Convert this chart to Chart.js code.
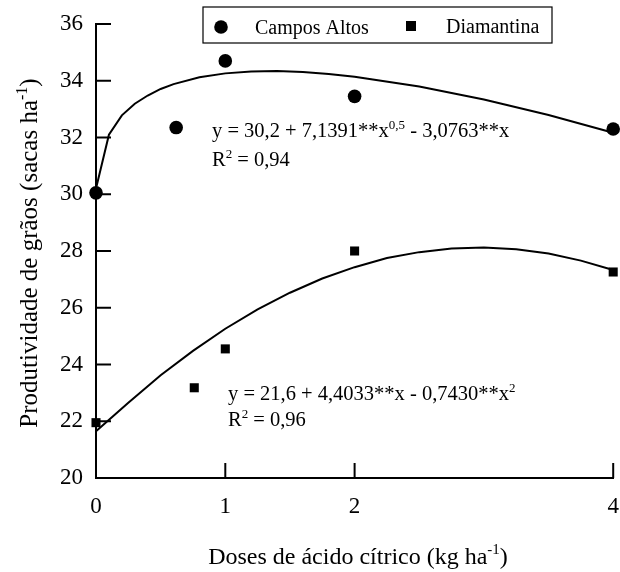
<!DOCTYPE html>
<html>
<head>
<meta charset="utf-8">
<script src="https://cdn.jsdelivr.net/npm/chart.js@4.4.1/dist/chart.umd.min.js"></script>
<style>
html, body { margin: 0; padding: 0; background: #fff; }
#wrap { width: 620px; height: 572px; }
</style>
</head>
<body>
<div id="wrap"><canvas id="myChart" width="620" height="572"></canvas></div>
<script>
// data
const seriesNames = ['Campos Altos', 'Diamantina'];
const camposDoses = [0, 0.62, 1, 2, 4];
const camposYield = [30.05, 32.35, 34.7, 33.45, 32.3];
const diamDoses = [0, 0.76, 1, 2, 4];
const diamYield = [21.95, 23.18, 24.55, 28.0, 27.26];

// fitted curves
const camposCurveX = [0, 0.1, 0.2, 0.3, 0.4, 0.5, 0.6, 0.8, 1.0, 1.2, 1.4, 1.6, 1.8, 2.0, 2.5, 3.0, 3.5, 4.0];
const camposCurveY = [30.2, 32.1, 32.78, 33.19, 33.48, 33.71, 33.88, 34.12, 34.26, 34.33, 34.34, 34.31, 34.24, 34.14, 33.8, 33.34, 32.79, 32.17];
const diamCurveX = [0, 0.25, 0.5, 0.75, 1.0, 1.25, 1.5, 1.75, 2.0, 2.25, 2.5, 2.75, 3.0, 3.25, 3.5, 3.75, 4.0];
const diamCurveY = [21.65, 22.65, 23.62, 24.48, 25.26, 25.94, 26.53, 27.03, 27.43, 27.75, 27.96, 28.09, 28.12, 28.06, 27.91, 27.66, 27.33];

const xTickValues = [0, 1, 2, 4];
const yTickMin = 20, yTickMax = 36, yTickStep = 2;

// texts, parts flagged sup are superscripts
const xTitle = [{ t: 'Doses de ácido cítrico (kg ha' }, { t: '-1', sup: true }, { t: ')' }];
const yTitle = [{ t: 'Produtividade de grãos (sacas ha' }, { t: '-1', sup: true }, { t: ')' }];
const camposEq = [{ t: 'y = 30,2 + 7,1391**x' }, { t: '0,5', sup: true }, { t: ' - 3,0763**x' }];
const camposR2 = [{ t: 'R' }, { t: '2', sup: true }, { t: ' = 0,94' }];
const diamEq = [{ t: 'y = 21,6 + 4,4033**x - 0,7430**x' }, { t: '2', sup: true }];
const diamR2 = [{ t: 'R' }, { t: '2', sup: true }, { t: ' = 0,96' }];

const FONT = '"Liberation Serif", "Times New Roman", serif';

function toPoints(xs, ys) {
    return xs.map(function(x, i) { return { x: x, y: ys[i] }; });
}

function richWidth(ctx, parts, size) {
    let w = 0;
    parts.forEach(function(p) {
        ctx.font = (p.sup ? Math.round(size * 0.62) : size) + 'px ' + FONT;
        w += ctx.measureText(p.t).width;
    });
    return w;
}

function richText(ctx, parts, x, y, size) {
    let cx = x;
    parts.forEach(function(p) {
        const s = p.sup ? Math.round(size * 0.62) : size;
        ctx.font = s + 'px ' + FONT;
        ctx.fillText(p.t, cx, p.sup ? y - size * 0.4 : y);
        cx += ctx.measureText(p.t).width;
    });
}

function line(ctx, x1, y1, x2, y2) {
    ctx.beginPath();
    ctx.moveTo(x1, y1);
    ctx.lineTo(x2, y2);
    ctx.stroke();
}

// ticks pointing inward, titles, equations and legend box
const extras = {
    id: 'extras',
    afterDraw(chart) {
        const ctx = chart.ctx;
        const xs = chart.scales.x, ys = chart.scales.y;
        ctx.save();
        ctx.strokeStyle = '#000';
        ctx.fillStyle = '#000';
        ctx.lineWidth = 2;
        ys.ticks.forEach(function(t) {
            const py = ys.getPixelForValue(t.value);
            line(ctx, xs.left, py, xs.left + 15, py);
        });
        xs.ticks.forEach(function(t) {
            const px = xs.getPixelForValue(t.value);
            line(ctx, px, ys.bottom, px, ys.bottom - 15);
        });

        ctx.textBaseline = 'alphabetic';
        ctx.textAlign = 'left';

        // axis titles
        const xw = richWidth(ctx, xTitle, 24);
        richText(ctx, xTitle, 358 - xw / 2, 564, 24);
        ctx.save();
        ctx.translate(37, 253);
        ctx.rotate(-Math.PI / 2);
        const yw = richWidth(ctx, yTitle, 25);
        richText(ctx, yTitle, -yw / 2, 0, 25);
        ctx.restore();

        // equations
        richText(ctx, camposEq, 212, 137, 20.5);
        richText(ctx, camposR2, 212, 166, 20.5);
        richText(ctx, diamEq, 228, 400, 20.5);
        richText(ctx, diamR2, 228, 426, 20.5);

        // legend
        ctx.lineWidth = 1.2;
        ctx.strokeRect(203, 7, 349, 36);
        ctx.beginPath();
        ctx.arc(221, 27, 6.8, 0, Math.PI * 2);
        ctx.fill();
        ctx.fillRect(406, 21, 10, 10);
        ctx.font = '20px ' + FONT;
        ctx.fillText(seriesNames[0], 255, 34);
        ctx.fillText(seriesNames[1], 446, 33);
        ctx.restore();
    }
};

const data = {
    datasets: [{
        label: seriesNames[0] + ' fit',
        data: toPoints(camposCurveX, camposCurveY),
        showLine: true,
        borderColor: '#000',
        borderWidth: 2,
        pointRadius: 0,
        tension: 0,
        clip: false,
        order: 2
    }, {
        label: seriesNames[1] + ' fit',
        data: toPoints(diamCurveX, diamCurveY),
        showLine: true,
        borderColor: '#000',
        borderWidth: 2,
        pointRadius: 0,
        tension: 0,
        clip: false,
        order: 2
    }, {
        label: seriesNames[0],
        data: toPoints(camposDoses, camposYield),
        pointStyle: 'circle',
        pointRadius: 6.8,
        backgroundColor: '#000',
        borderColor: '#000',
        borderWidth: 0,
        clip: false,
        order: 1
    }, {
        label: seriesNames[1],
        data: toPoints(diamDoses, diamYield),
        pointStyle: 'rect',
        pointRadius: 6.4,
        backgroundColor: '#000',
        borderColor: '#000',
        borderWidth: 0,
        clip: false,
        order: 1
    }]
};

const config = {
    type: 'scatter',
    data,
    options: {
        responsive: false,
        animation: false,
        devicePixelRatio: 1,
        layout: { padding: { left: 0, right: 6, top: 24, bottom: 0 } },
        plugins: {
            legend: { display: false },
            tooltip: { enabled: false }
        },
        scales: {
            x: {
                type: 'linear',
                min: 0,
                max: 4,
                afterBuildTicks: function(scale) {
                    scale.ticks = xTickValues.map(function(v) { return { value: v }; });
                },
                afterFit: function(scale) {
                    scale.height = 94;
                    scale.paddingLeft = 0;
                    scale.paddingRight = 0;
                },
                grid: { display: false, drawTicks: false },
                border: { display: true, color: '#000', width: 2 },
                ticks: {
                    color: '#000',
                    padding: 15,
                    maxRotation: 0,
                    font: { family: FONT, size: 23 }
                }
            },
            y: {
                min: yTickMin,
                max: yTickMax,
                afterFit: function(scale) {
                    scale.width = 96;
                    scale.paddingTop = 0;
                    scale.paddingBottom = 0;
                },
                grid: { display: false, drawTicks: false },
                border: { display: true, color: '#000', width: 2 },
                ticks: {
                    stepSize: yTickStep,
                    color: '#000',
                    padding: 13,
                    font: { family: FONT, size: 23 }
                }
            }
        }
    },
    plugins: [extras]
};

const myChart = new Chart(document.getElementById('myChart'), config);
</script>
</body>
</html>
